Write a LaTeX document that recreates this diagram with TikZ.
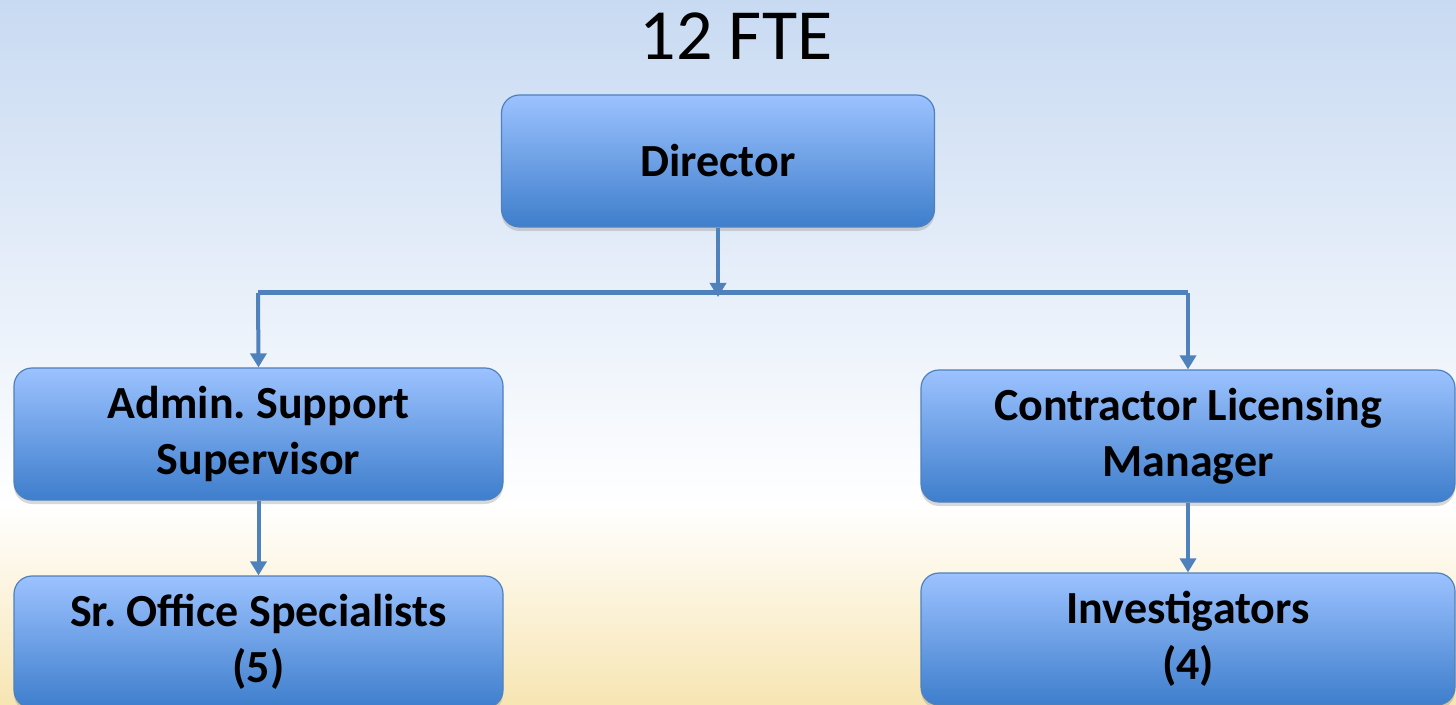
\documentclass[tikz,border=0pt]{standalone}
\usepackage{fontspec}
\setmainfont{Carlito}
\usetikzlibrary{arrows.meta,shadows}
\frenchspacing
\definecolor{boxtop}{RGB}{156,194,255}
\definecolor{boxbot}{RGB}{62,126,204}
\definecolor{boxline}{RGB}{79,129,189}
\definecolor{linkblue}{RGB}{79,129,189}
\definecolor{bgtop}{RGB}{200,218,242}
\definecolor{bgbot}{RGB}{247,229,178}
\tikzset{
  post/.style={rounded corners=9pt,draw=boxline,line width=0.6pt,
    top color=boxtop,bottom color=boxbot,minimum height=66pt,align=center,
    font=\fontsize{23}{28}\selectfont\bfseries,
    drop shadow={shadow xshift=0pt,shadow yshift=-2pt,opacity=0.3}},
  link/.style={draw=linkblue,line width=2pt,-{Triangle[width=8pt,length=7pt]}},
  bus/.style={draw=linkblue,line width=2.5pt}
}
\begin{document}
\begin{tikzpicture}[x=0.5pt,y=-0.5pt]
\useasboundingbox (0,0) rectangle (1456,705) ;
\clip (0,0) rectangle (1456,705) ;
% background
\shade[top color=bgtop,bottom color=white] (0,0) rectangle (1456,506) ;
\shade[top color=white,bottom color=bgbot] (0,505) rectangle (1456,705) ;
\node[font=\fontsize{36}{40}\selectfont] (fte) at (736,36) {12 FTE} ;
% boxes
\node[post,minimum width=216.5pt] (dir) at (718,161) {Director} ;
\node[post,minimum width=244.5pt] (admin) at (258.5,434) {Admin. Support\\Supervisor} ;
\node[post,minimum width=267pt] (clm) at (1188,436) {Contractor Licensing\\Manager} ;
\node[post,minimum width=244.5pt] (sros) at (258.5,642) {Sr. Office Specialists\\(5)} ;
\node[post,minimum width=267pt] (inv) at (1188,639) {Investigators\\(4)} ;
% connectors
\coordinate (busL) at (258,293) ;
\coordinate (busM) at (718,297) ;
\coordinate (busR) at (1188,293) ;
\draw[bus] (busL) -- (busR) ;
\draw[link] (dir.south) -- (busM) ;
\draw[link] (busL) -- (admin.north) ;
\draw[link] (busR) -- (clm.north) ;
\draw[link] (admin.south) -- (sros.north) ;
\draw[link] (clm.south) -- (inv.north) ;
\end{tikzpicture}
\end{document}
